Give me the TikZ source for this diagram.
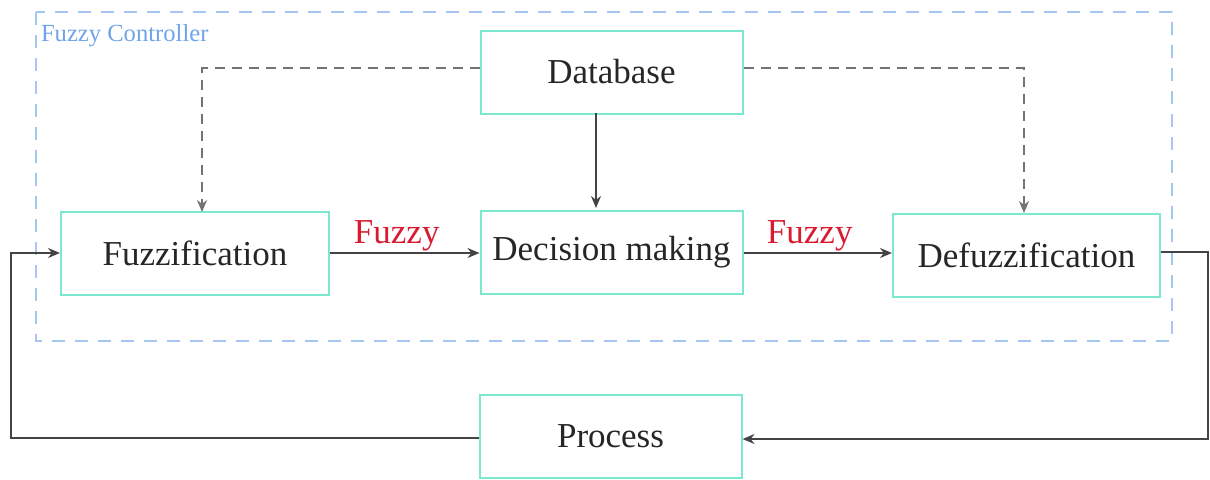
\documentclass[tikz,border=0pt]{standalone}
\usepackage{fontspec}
\setmainfont{Liberation Serif}
\usepackage{xcolor}
\usetikzlibrary{arrows.meta,positioning}
\definecolor{boxline}{HTML}{7DE8D0}
\definecolor{ctrlblue}{HTML}{A6C6F2}
\definecolor{ctrltext}{HTML}{6FA4E8}
\definecolor{fuzzred}{HTML}{D91A30}
\definecolor{wire}{HTML}{444444}
\begin{document}
\begin{tikzpicture}[x=0.5pt,y=-0.5pt, every node/.style={font=\fontsize{17.5}{20}\selectfont, text=black!85}, box/.style={draw=boxline,line width=1pt,minimum width=131pt,minimum height=41.5pt,inner sep=0pt}, link/.style={draw=wire,line width=0.8pt,-{Stealth[length=6pt,width=5pt]}}, dlink/.style={link,draw=black!55,line width=1pt,dash pattern=on 5pt off 3.5pt}, lbl/.style={above=-3pt,xshift=-4pt,text=fuzzred}]
\useasboundingbox (0,0) rectangle (1210,479);
\draw[ctrlblue,line width=1pt,dash pattern=on 6.5pt off 5pt] (36,12) rectangle (1172,341);
\node[anchor=west,text=ctrltext,font=\fontsize{12.3}{14}\selectfont] (fc) at (34,36) {Fuzzy Controller};
\node[box] (db) at (611.5,72) {Database};
\node[box,minimum width=134pt] (fz) at (195,253.5) {Fuzzification};
\node[box] (dm) at (611.5,252) {Decision making};
\node[box,minimum width=133.5pt] (dz) at (1026.5,255) {Defuzzification};
\node[box] (pr) at (610.5,436.5) {Process};
\coordinate (dbs) at (596,113);
\coordinate (dmn) at (596,208);
\coordinate (ne) at (1208,252);
\coordinate (se) at (1208,439);
\coordinate (sw) at (11,438);
\coordinate (nw) at (11,253);
\draw[dlink] (db.west |- 0,68) -| (202,212);
\draw[dlink] (db.east |- 0,68) -| (1024,213);
\draw[link] (dbs) -- (dmn);
\draw[link] (fz.east |- 0,253) -- node[lbl] (f1) {Fuzzy} (dm.west |- 0,253);
\draw[link] (dm.east |- 0,253) -- node[lbl] (f2) {Fuzzy} (dz.west |- 0,253);
\draw[link] (dz.east |- 0,252) -- (ne) -- (se) -- (pr.east |- se);
\draw[link] (pr.west |- sw) -- (sw) -- (nw) -- (fz.west |- nw);
\end{tikzpicture}
\end{document}
